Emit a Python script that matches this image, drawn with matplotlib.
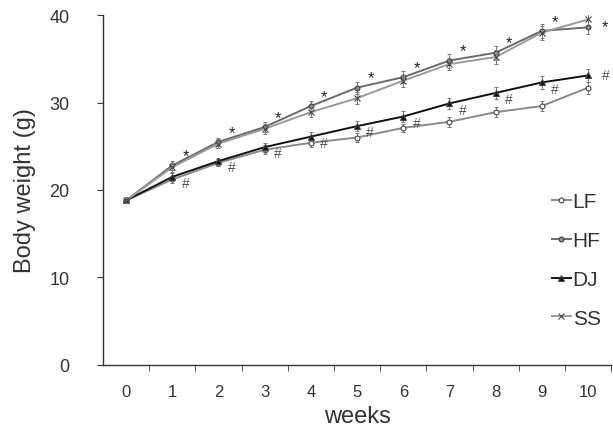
import matplotlib
matplotlib.use("Agg")
import matplotlib.pyplot as plt
from matplotlib.ticker import FixedLocator

# DATA -------------
weeks = [0, 1, 2, 3, 4, 5, 6, 7, 8, 9, 10]

lf = [18.8, 21.2, 23.1, 24.6, 25.4, 26.0, 27.1, 27.8, 28.9, 29.6, 31.7]
hf = [18.8, 22.8, 25.5, 27.2, 29.6, 31.7, 32.9, 34.8, 35.7, 38.2, 38.6]
dj = [18.8, 21.5, 23.3, 24.9, 26.1, 27.3, 28.4, 29.9, 31.1, 32.3, 33.1]
ss = [18.8, 22.6, 25.3, 27.0, 28.9, 30.5, 32.5, 34.4, 35.2, 38.0, 39.5]

lf_err = [0.3, 0.4, 0.4, 0.5, 0.5, 0.5, 0.5, 0.6, 0.6, 0.6, 0.7]
hf_err = [0.3, 0.5, 0.5, 0.6, 0.6, 0.7, 0.7, 0.8, 0.8, 0.8, 0.8]
dj_err = [0.3, 0.4, 0.4, 0.5, 0.5, 0.6, 0.6, 0.6, 0.7, 0.7, 0.7]
ss_err = [0.3, 0.5, 0.5, 0.6, 0.6, 0.7, 0.7, 0.7, 0.8, 0.8, 0.8]

# weeks where HF differs from LF (*) and DJ differs from HF (#)
star_weeks = [1, 2, 3, 4, 5, 6, 7, 8, 9, 10]
hash_weeks = [1, 2, 3, 4, 5, 6, 7, 8, 9, 10]

plt.rcParams["font.family"] = ["Liberation Sans", "DejaVu Sans"]

fig = plt.figure(figsize=(6.13, 4.35), dpi=100)
ax = fig.add_axes([0.168, 0.159, 0.829, 0.804])

series = [
    ("LF", lf, lf_err, "#8a8a8a", "o", "white", 3.5),
    ("HF", hf, hf_err, "#6a6a6a", "o", "#8a8a8a", 3.5),
    ("DJ", dj, dj_err, "#111111", "^", "#111111", 4.5),
    ("SS", ss, ss_err, "#9a9a9a", "x", "#9a9a9a", 4.5),
]

for name, vals, err, col, mk, mfc, ms in series:
    ax.errorbar(weeks, vals, yerr=err, fmt="none", ecolor="#777777",
                elinewidth=0.7, capsize=1.5, capthick=0.7)
    ax.plot(weeks, vals, color=col, linewidth=1.4, marker=mk,
            markersize=ms, markerfacecolor=mfc, markeredgecolor="#444444",
            markeredgewidth=0.8, label=name)

for w in star_weeks:
    i = weeks.index(w)
    if w == weeks[-1]:
        ax.text(w + 0.3, hf[i] + 0.1, "*", fontsize=12, ha="left",
                va="center", color="#222222")
    else:
        ax.text(w + 0.22, hf[i] + 1.1, "*", fontsize=12, ha="left",
                va="center", color="#222222")

for w in hash_weeks:
    i = weeks.index(w)
    dx = 0.3 if w == weeks[-1] else 0.2
    dy = 0.0 if w == weeks[-1] else -0.7
    ax.text(w + dx, dj[i] + dy, "#", fontsize=10, ha="left",
            va="center", color="#555555")

ax.set_xlim(-0.5, 10.5)
ax.set_ylim(0, 40)

ax.xaxis.set_major_locator(FixedLocator(weeks))
ax.xaxis.set_minor_locator(FixedLocator([w + 0.5 for w in weeks[:-1]] + [10.5]))
ax.tick_params(axis="x", which="major", length=0, pad=14, labelsize=12,
               colors="#333333")
ax.tick_params(axis="x", which="minor", length=4, direction="out",
               color="#333333")
ax.set_yticks([0, 10, 20, 30, 40])
ax.tick_params(axis="y", length=4, direction="out", labelsize=13, pad=20,
               colors="#333333")

for s in ["top", "right"]:
    ax.spines[s].set_visible(False)
for s in ["left", "bottom"]:
    ax.spines[s].set_color("#333333")
    ax.spines[s].set_linewidth(1.0)

ax.set_xlabel("weeks", fontsize=17, color="#333333", labelpad=4)
ax.set_ylabel("Body weight (g)", fontsize=17, color="#333333", labelpad=10)

handles, labels = ax.get_legend_handles_labels()
leg = ax.legend(handles, labels, loc="center right", frameon=False,
                fontsize=15, handlelength=0.9, handletextpad=0.1,
                labelspacing=0.95, bbox_to_anchor=(1.0, 0.30),
                borderaxespad=0.1)
for t in leg.get_texts():
    t.set_color("#333333")

fig.savefig("out.png", dpi=100)
